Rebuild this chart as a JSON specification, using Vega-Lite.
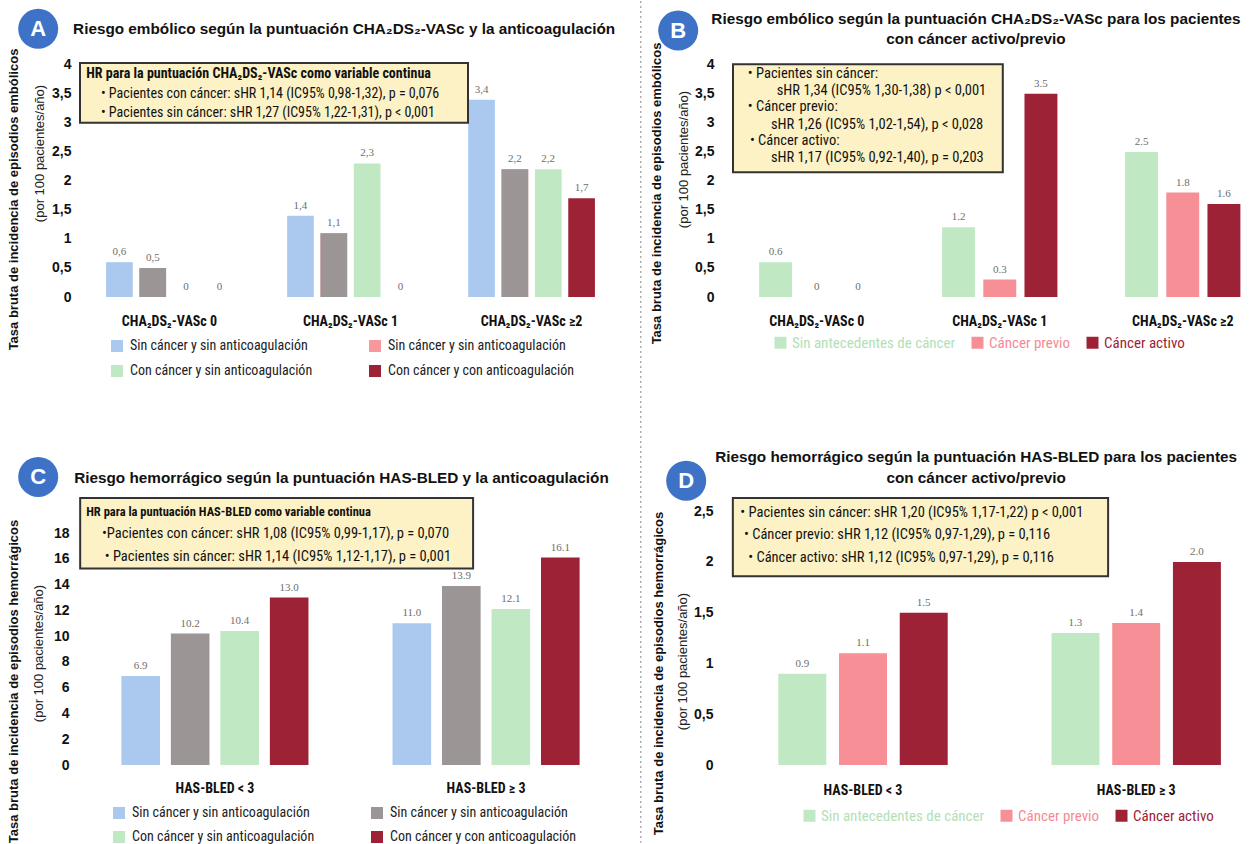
{
  "$schema": "https://vega.github.io/schema/vega-lite/v6.json",
  "padding": {"left": 6, "top": 0, "right": 0, "bottom": 0},
  "autosize": {"type": "pad"},
  "background": "white",
  "bounds": "flush",
  "spacing": 438,
  "config": {"view": {"stroke": null}},
  "resolve": {"scale": {"color": "independent", "xOffset": "independent"}, "legend": {"color": "independent"}},
  "datasets": {
    "A": [
      {"grupo": "CHA₂DS₂-VASc 0", "serie": "Sin cáncer y sin anticoagulación", "valor": 0.6, "etiqueta": "0,6"},
      {"grupo": "CHA₂DS₂-VASc 0", "serie": "Sin cáncer y con anticoagulación", "valor": 0.5, "etiqueta": "0,5"},
      {"grupo": "CHA₂DS₂-VASc 0", "serie": "Con cáncer y sin anticoagulación", "valor": 0, "etiqueta": "0"},
      {"grupo": "CHA₂DS₂-VASc 0", "serie": "Con cáncer y con anticoagulación", "valor": 0, "etiqueta": "0"},
      {"grupo": "CHA₂DS₂-VASc 1", "serie": "Sin cáncer y sin anticoagulación", "valor": 1.4, "etiqueta": "1,4"},
      {"grupo": "CHA₂DS₂-VASc 1", "serie": "Sin cáncer y con anticoagulación", "valor": 1.1, "etiqueta": "1,1"},
      {"grupo": "CHA₂DS₂-VASc 1", "serie": "Con cáncer y sin anticoagulación", "valor": 2.3, "etiqueta": "2,3"},
      {"grupo": "CHA₂DS₂-VASc 1", "serie": "Con cáncer y con anticoagulación", "valor": 0, "etiqueta": "0"},
      {"grupo": "CHA₂DS₂-VASc ≥2", "serie": "Sin cáncer y sin anticoagulación", "valor": 3.4, "etiqueta": "3,4"},
      {"grupo": "CHA₂DS₂-VASc ≥2", "serie": "Sin cáncer y con anticoagulación", "valor": 2.2, "etiqueta": "2,2"},
      {"grupo": "CHA₂DS₂-VASc ≥2", "serie": "Con cáncer y sin anticoagulación", "valor": 2.2, "etiqueta": "2,2"},
      {"grupo": "CHA₂DS₂-VASc ≥2", "serie": "Con cáncer y con anticoagulación", "valor": 1.7, "etiqueta": "1,7"}
    ],
    "B": [
      {"grupo": "CHA₂DS₂-VASc 0", "serie": "Sin antecedentes de cáncer", "valor": 0.6, "etiqueta": "0.6"},
      {"grupo": "CHA₂DS₂-VASc 0", "serie": "Cáncer previo", "valor": 0, "etiqueta": "0"},
      {"grupo": "CHA₂DS₂-VASc 0", "serie": "Cáncer activo", "valor": 0, "etiqueta": "0"},
      {"grupo": "CHA₂DS₂-VASc 1", "serie": "Sin antecedentes de cáncer", "valor": 1.2, "etiqueta": "1.2"},
      {"grupo": "CHA₂DS₂-VASc 1", "serie": "Cáncer previo", "valor": 0.3, "etiqueta": "0.3"},
      {"grupo": "CHA₂DS₂-VASc 1", "serie": "Cáncer activo", "valor": 3.5, "etiqueta": "3.5"},
      {"grupo": "CHA₂DS₂-VASc ≥2", "serie": "Sin antecedentes de cáncer", "valor": 2.5, "etiqueta": "2.5"},
      {"grupo": "CHA₂DS₂-VASc ≥2", "serie": "Cáncer previo", "valor": 1.8, "etiqueta": "1.8"},
      {"grupo": "CHA₂DS₂-VASc ≥2", "serie": "Cáncer activo", "valor": 1.6, "etiqueta": "1.6"}
    ],
    "C": [
      {"grupo": "HAS-BLED < 3", "serie": "Sin cáncer y sin anticoagulación", "valor": 6.9, "etiqueta": "6.9"},
      {"grupo": "HAS-BLED < 3", "serie": "Sin cáncer y con anticoagulación", "valor": 10.2, "etiqueta": "10.2"},
      {"grupo": "HAS-BLED < 3", "serie": "Con cáncer y sin anticoagulación", "valor": 10.4, "etiqueta": "10.4"},
      {"grupo": "HAS-BLED < 3", "serie": "Con cáncer y con anticoagulación", "valor": 13.0, "etiqueta": "13.0"},
      {"grupo": "HAS-BLED ≥ 3", "serie": "Sin cáncer y sin anticoagulación", "valor": 11.0, "etiqueta": "11.0"},
      {"grupo": "HAS-BLED ≥ 3", "serie": "Sin cáncer y con anticoagulación", "valor": 13.9, "etiqueta": "13.9"},
      {"grupo": "HAS-BLED ≥ 3", "serie": "Con cáncer y sin anticoagulación", "valor": 12.1, "etiqueta": "12.1"},
      {"grupo": "HAS-BLED ≥ 3", "serie": "Con cáncer y con anticoagulación", "valor": 16.1, "etiqueta": "16.1"}
    ],
    "D": [
      {"grupo": "HAS-BLED < 3", "serie": "Sin antecedentes de cáncer", "valor": 0.9, "etiqueta": "0.9"},
      {"grupo": "HAS-BLED < 3", "serie": "Cáncer previo", "valor": 1.1, "etiqueta": "1.1"},
      {"grupo": "HAS-BLED < 3", "serie": "Cáncer activo", "valor": 1.5, "etiqueta": "1.5"},
      {"grupo": "HAS-BLED ≥ 3", "serie": "Sin antecedentes de cáncer", "valor": 1.3, "etiqueta": "1.3"},
      {"grupo": "HAS-BLED ≥ 3", "serie": "Cáncer previo", "valor": 1.4, "etiqueta": "1.4"},
      {"grupo": "HAS-BLED ≥ 3", "serie": "Cáncer activo", "valor": 2.0, "etiqueta": "2.0"}
    ]
  },
  "vconcat": [
    {
      "bounds": "flush",
      "spacing": 100,
      "resolve": {"scale": {"color": "independent", "xOffset": "independent"}, "legend": {"color": "independent"}},
      "hconcat": [
        {
          "width": 545,
          "height": 238,
          "layer": [
            {
              "data": {"name": "A"},
              "encoding": {
                "x": {"field": "grupo", "type": "nominal", "sort": null, "scale": {"domain": ["CHA₂DS₂-VASc 0", "CHA₂DS₂-VASc 1", "CHA₂DS₂-VASc ≥2"], "paddingInner": 0.3, "paddingOuter": 0.155, "align": 0.5}, "axis": {"title": null, "orient": "bottom", "labelAngle": 0, "labelFont": "Roboto Condensed, Liberation Sans", "labelFontSize": 14, "labelFontWeight": "bold", "labelColor": "#111", "ticks": false, "domain": false, "labelPadding": 17}},
                "xOffset": {"field": "serie", "type": "nominal", "sort": null, "scale": {"domain": ["Sin cáncer y sin anticoagulación", "Sin cáncer y con anticoagulación", "Con cáncer y sin anticoagulación", "Con cáncer y con anticoagulación"], "paddingInner": 0.2, "paddingOuter": 0}}
              },
              "resolve": {"axis": {"y": "independent"}},
              "layer": [
                {
                  "mark": {"type": "bar", "clip": false},
                  "encoding": {
                    "y": {"field": "valor", "type": "quantitative", "scale": {"domain": [0, 4.1], "nice": false}, "axis": {"orient": "left", "title": "(por 100 pacientes/año)", "titleFont": "Liberation Sans", "titleFontSize": 13, "titleFontWeight": "normal", "titleColor": "#222", "titlePadding": 5, "titleY": 94, "labelFont": "Liberation Sans", "labelFontSize": 14, "labelFontWeight": "bold", "labelColor": "#111", "labelPadding": 7, "ticks": false, "tickSize": 0, "domain": false, "grid": false, "values": [0, 0.5, 1, 1.5, 2, 2.5, 3, 3.5, 4], "labelExpr": "replace(format(datum.value, '~g'), '.', ',')"}},
                    "color": {"field": "serie", "type": "nominal", "scale": {"domain": ["Sin cáncer y sin anticoagulación", "Sin cáncer y con anticoagulación", "Con cáncer y sin anticoagulación", "Con cáncer y con anticoagulación"], "range": ["#abc9ef", "#f6989c", "#bfe8c3", "#9e2236"]}, "legend": {"title": null, "orient": "none", "legendX": 32, "legendY": 280, "direction": "horizontal", "columns": 2, "columnPadding": 55, "rowPadding": 11, "symbolType": "square", "symbolSize": 144, "symbolStrokeWidth": 0, "labelFont": "Roboto Condensed, Liberation Sans", "labelFontSize": 14, "labelColor": "#222", "labelOffset": 6, "labelLimit": 320, "padding": 0, "labelExpr": "datum.label == 'Sin cáncer y con anticoagulación' ? 'Sin cáncer y sin anticoagulación' : datum.label"}}
                  }
                },
                {
                  "transform": [{"filter": "datum.serie == 'Sin cáncer y con anticoagulación'"}],
                  "mark": {"type": "bar", "color": "#9b9595", "clip": false},
                  "encoding": {"y": {"field": "valor", "type": "quantitative", "axis": null}}
                },
                {
                  "mark": {"type": "text", "baseline": "bottom", "dy": -5, "font": "Liberation Serif", "fontSize": 11, "color": "#6e6e6e", "clip": false},
                  "encoding": {
                    "y": {"field": "valor", "type": "quantitative", "axis": {"orient": "left", "title": "Tasa bruta de incidencia de episodios embólicos", "titleFont": "Liberation Sans", "titleFontSize": 13, "titleFontWeight": "bold", "titleColor": "#111", "titlePadding": 58, "titleY": 140, "labels": false, "ticks": false, "tickSize": 0, "domain": false, "grid": false}},
                    "text": {"field": "etiqueta"}
                  }
                }
              ]
            },
            {
              "data": {"values": [{}]},
              "layer": [
                {"mark": {"type": "rect", "fill": "#fcf2c6", "stroke": "#333333", "strokeWidth": 2, "clip": false}, "encoding": {"x": {"datum": "CHA₂DS₂-VASc 0", "type": "nominal", "bandPosition": -0.2057}, "x2": {"datum": "CHA₂DS₂-VASc 0", "bandPosition": 2.8557}, "y": {"datum": 4.03, "type": "quantitative", "axis": null}, "y2": {"datum": 3.0}}},
                {"mark": {"type": "text", "text": "HR para la puntuación CHA₂DS₂-VASc como variable continua", "align": "left", "baseline": "middle", "font": "Roboto Condensed, Liberation Sans", "fontSize": 14, "fontWeight": "bold", "color": "#111", "clip": false}, "encoding": {"x": {"datum": "CHA₂DS₂-VASc 0", "type": "nominal", "bandPosition": -0.1568}, "y": {"datum": 3.84, "type": "quantitative", "axis": null}}},
                {"mark": {"type": "text", "text": "• Pacientes con cáncer: sHR 1,14 (IC95% 0,98-1,32), p = 0,076", "align": "left", "baseline": "middle", "font": "Roboto Condensed, Liberation Sans", "fontSize": 14, "color": "#111", "clip": false}, "encoding": {"x": {"datum": "CHA₂DS₂-VASc 0", "type": "nominal", "bandPosition": -0.0408}, "y": {"datum": 3.5, "type": "quantitative", "axis": null}}},
                {"mark": {"type": "text", "text": "• Pacientes sin cáncer: sHR 1,27 (IC95% 1,22-1,31), p < 0,001", "align": "left", "baseline": "middle", "font": "Roboto Condensed, Liberation Sans", "fontSize": 14, "color": "#111", "clip": false}, "encoding": {"x": {"datum": "CHA₂DS₂-VASc 0", "type": "nominal", "bandPosition": -0.0408}, "y": {"datum": 3.17, "type": "quantitative", "axis": null}}},
                {"mark": {"type": "point", "shape": "circle", "filled": true, "size": 1600, "color": "#3d72c6", "opacity": 1, "strokeWidth": 0, "clip": false}, "encoding": {"x": {"datum": "CHA₂DS₂-VASc 0", "type": "nominal", "bandPosition": -0.5355}, "y": {"datum": 4.62, "type": "quantitative", "axis": null}}},
                {"mark": {"type": "text", "text": "A", "align": "center", "baseline": "middle", "font": "Liberation Sans", "fontSize": 22, "fontWeight": "bold", "color": "white", "clip": false}, "encoding": {"x": {"datum": "CHA₂DS₂-VASc 0", "type": "nominal", "bandPosition": -0.5355}, "y": {"datum": 4.62, "type": "quantitative", "axis": null}}},
                {"mark": {"type": "text", "text": "Riesgo embólico según la puntuación CHA₂DS₂-VASc y la anticoagulación", "align": "left", "baseline": "middle", "font": "Liberation Sans", "fontSize": 15.3, "fontWeight": "bold", "color": "#111", "clip": false}, "encoding": {"x": {"datum": "CHA₂DS₂-VASc 0", "type": "nominal", "bandPosition": -0.2601}, "y": {"datum": 4.617, "type": "quantitative", "axis": null}}}
              ]
            }
          ]
        },
        {
          "width": 527,
          "height": 238,
          "layer": [
            {
              "data": {"name": "B"},
              "encoding": {
                "x": {"field": "grupo", "type": "nominal", "sort": null, "scale": {"domain": ["CHA₂DS₂-VASc 0", "CHA₂DS₂-VASc 1", "CHA₂DS₂-VASc ≥2"], "paddingInner": 0.37, "paddingOuter": 0.125, "align": 0.79}, "axis": {"title": null, "orient": "bottom", "labelAngle": 0, "labelFont": "Roboto Condensed, Liberation Sans", "labelFontSize": 14, "labelFontWeight": "bold", "labelColor": "#111", "ticks": false, "domain": false, "labelPadding": 17}},
                "xOffset": {"field": "serie", "type": "nominal", "sort": null, "scale": {"domain": ["Sin antecedentes de cáncer", "Cáncer previo", "Cáncer activo"], "paddingInner": 0.2, "paddingOuter": 0}}
              },
              "resolve": {"axis": {"y": "independent"}},
              "layer": [
                {
                  "mark": {"type": "bar", "clip": false},
                  "encoding": {
                    "y": {"field": "valor", "type": "quantitative", "scale": {"domain": [0, 4.1], "nice": false}, "axis": {"orient": "left", "title": "(por 100 pacientes/año)", "titleFont": "Liberation Sans", "titleFontSize": 13, "titleFontWeight": "normal", "titleColor": "#222", "titlePadding": 4, "titleY": 100, "labelFont": "Liberation Sans", "labelFontSize": 14, "labelFontWeight": "bold", "labelColor": "#111", "labelPadding": 9, "ticks": false, "tickSize": 0, "domain": false, "grid": false, "values": [0, 0.5, 1, 1.5, 2, 2.5, 3, 3.5, 4], "labelExpr": "replace(format(datum.value, '~g'), '.', ',')"}},
                    "color": {"field": "serie", "type": "nominal", "scale": {"domain": ["Sin antecedentes de cáncer", "Cáncer previo", "Cáncer activo"], "range": ["#bfe8c3", "#f69096", "#9e2236"]}, "legend": {"title": null, "orient": "none", "legendX": 50, "legendY": 276, "direction": "horizontal", "columnPadding": 14, "symbolType": "square", "symbolSize": 144, "symbolStrokeWidth": 0, "labelFont": "Roboto Condensed, Liberation Sans", "labelFontSize": 15, "labelOffset": 4, "labelLimit": 300, "padding": 0, "encode": {"labels": {"update": {"fill": {"signal": "datum.value == 'Sin antecedentes de cáncer' ? '#b3e0b7' : datum.value == 'Cáncer previo' ? '#f58a93' : '#9e2236'"}}}}}}
                  }
                },
                {
                  "mark": {"type": "text", "baseline": "bottom", "dy": -5, "font": "Liberation Serif", "fontSize": 11, "color": "#6e6e6e", "clip": false},
                  "encoding": {
                    "y": {"field": "valor", "type": "quantitative", "axis": {"orient": "left", "title": "Tasa bruta de incidencia de episodios embólicos", "titleFont": "Liberation Sans", "titleFontSize": 13, "titleFontWeight": "bold", "titleColor": "#111", "titlePadding": 60, "titleY": 134, "labels": false, "ticks": false, "tickSize": 0, "domain": false, "grid": false}},
                    "text": {"field": "etiqueta"}
                  }
                }
              ]
            },
            {
              "data": {"values": [{}]},
              "layer": [
                {"mark": {"type": "rule", "color": "#9a9a9a", "strokeWidth": 1.2, "strokeDash": [2, 3], "clip": false}, "encoding": {"x": {"datum": "CHA₂DS₂-VASc 0", "type": "nominal", "bandPosition": -1.0266}, "y": {"datum": 5.099, "type": "quantitative", "axis": null}, "y2": {"datum": -9.4}}},
                {"mark": {"type": "rect", "fill": "#fcf2c6", "stroke": "#333333", "strokeWidth": 2, "clip": false}, "encoding": {"x": {"datum": "CHA₂DS₂-VASc 0", "type": "nominal", "bandPosition": -0.2267}, "x2": {"datum": "CHA₂DS₂-VASc 0", "bandPosition": 2.1136}, "y": {"datum": 4.01, "type": "quantitative", "axis": null}, "y2": {"datum": 2.15}}},
                {"mark": {"type": "text", "text": "• Pacientes sin cáncer:", "align": "left", "baseline": "middle", "font": "Roboto Condensed, Liberation Sans", "fontSize": 14.5, "color": "#111", "clip": false}, "encoding": {"x": {"datum": "CHA₂DS₂-VASc 0", "type": "nominal", "bandPosition": -0.0984}, "y": {"datum": 3.84, "type": "quantitative", "axis": null}}},
                {"mark": {"type": "text", "text": "sHR 1,34 (IC95% 1,30-1,38) p < 0,001", "align": "left", "baseline": "middle", "font": "Roboto Condensed, Liberation Sans", "fontSize": 14.5, "color": "#111", "clip": false}, "encoding": {"x": {"datum": "CHA₂DS₂-VASc 0", "type": "nominal", "bandPosition": 0.1528}, "y": {"datum": 3.55, "type": "quantitative", "axis": null}}},
                {"mark": {"type": "text", "text": "• Cáncer previo:", "align": "left", "baseline": "middle", "font": "Roboto Condensed, Liberation Sans", "fontSize": 14.5, "color": "#111", "clip": false}, "encoding": {"x": {"datum": "CHA₂DS₂-VASc 0", "type": "nominal", "bandPosition": -0.0984}, "y": {"datum": 3.27, "type": "quantitative", "axis": null}}},
                {"mark": {"type": "text", "text": "sHR 1,26 (IC95% 1,02-1,54), p < 0,028", "align": "left", "baseline": "middle", "font": "Roboto Condensed, Liberation Sans", "fontSize": 14.5, "color": "#111", "clip": false}, "encoding": {"x": {"datum": "CHA₂DS₂-VASc 0", "type": "nominal", "bandPosition": 0.1025}, "y": {"datum": 2.96, "type": "quantitative", "axis": null}}},
                {"mark": {"type": "text", "text": "• Cáncer activo:", "align": "left", "baseline": "middle", "font": "Roboto Condensed, Liberation Sans", "fontSize": 14.5, "color": "#111", "clip": false}, "encoding": {"x": {"datum": "CHA₂DS₂-VASc 0", "type": "nominal", "bandPosition": -0.0803}, "y": {"datum": 2.69, "type": "quantitative", "axis": null}}},
                {"mark": {"type": "text", "text": "sHR 1,17 (IC95% 0,92-1,40), p = 0,203", "align": "left", "baseline": "middle", "font": "Roboto Condensed, Liberation Sans", "fontSize": 14.5, "color": "#111", "clip": false}, "encoding": {"x": {"datum": "CHA₂DS₂-VASc 0", "type": "nominal", "bandPosition": 0.1025}, "y": {"datum": 2.39, "type": "quantitative", "axis": null}}},
                {"mark": {"type": "point", "shape": "circle", "filled": true, "size": 1600, "color": "#3d72c6", "opacity": 1, "strokeWidth": 0, "clip": false}, "encoding": {"x": {"datum": "CHA₂DS₂-VASc 0", "type": "nominal", "bandPosition": -0.7021}, "y": {"datum": 4.59, "type": "quantitative", "axis": null}}},
                {"mark": {"type": "text", "text": "B", "align": "center", "baseline": "middle", "font": "Liberation Sans", "fontSize": 22, "fontWeight": "bold", "color": "white", "clip": false}, "encoding": {"x": {"datum": "CHA₂DS₂-VASc 0", "type": "nominal", "bandPosition": -0.7021}, "y": {"datum": 4.59, "type": "quantitative", "axis": null}}},
                {"mark": {"type": "text", "text": "Riesgo embólico según la puntuación CHA₂DS₂-VASc para los pacientes", "align": "center", "baseline": "middle", "font": "Liberation Sans", "fontSize": 15.3, "fontWeight": "bold", "color": "#111", "clip": false}, "encoding": {"x": {"datum": "CHA₂DS₂-VASc 0", "type": "nominal", "bandPosition": 1.8809}, "y": {"datum": 4.79, "type": "quantitative", "axis": null}}},
                {"mark": {"type": "text", "text": "con cáncer activo/previo", "align": "center", "baseline": "middle", "font": "Liberation Sans", "fontSize": 15.3, "fontWeight": "bold", "color": "#111", "clip": false}, "encoding": {"x": {"datum": "CHA₂DS₂-VASc 0", "type": "nominal", "bandPosition": 1.8809}, "y": {"datum": 4.444, "type": "quantitative", "axis": null}}}
              ]
            }
          ]
        }
      ]
    },
    {
      "bounds": "flush",
      "spacing": 95,
      "resolve": {"scale": {"color": "independent", "xOffset": "independent"}, "legend": {"color": "independent"}},
      "hconcat": [
        {
          "width": 545,
          "height": 268,
          "layer": [
            {
              "data": {"name": "C"},
              "encoding": {
                "x": {"field": "grupo", "type": "nominal", "sort": null, "scale": {"domain": ["HAS-BLED < 3", "HAS-BLED ≥ 3"], "paddingInner": 0.31, "paddingOuter": 0.16, "align": 0.5}, "axis": {"title": null, "orient": "bottom", "labelAngle": 0, "labelFont": "Roboto Condensed, Liberation Sans", "labelFontSize": 14, "labelFontWeight": "bold", "labelColor": "#111", "ticks": false, "domain": false, "labelPadding": 16}},
                "xOffset": {"field": "serie", "type": "nominal", "sort": null, "scale": {"domain": ["Sin cáncer y sin anticoagulación", "Sin cáncer y con anticoagulación", "Con cáncer y sin anticoagulación", "Con cáncer y con anticoagulación"], "paddingInner": 0.22, "paddingOuter": 0}}
              },
              "resolve": {"axis": {"y": "independent"}},
              "layer": [
                {
                  "mark": {"type": "bar", "clip": false},
                  "encoding": {
                    "y": {"field": "valor", "type": "quantitative", "scale": {"domain": [0, 20.8], "nice": false}, "axis": {"orient": "left", "title": "(por 100 pacientes/año)", "titleFont": "Liberation Sans", "titleFontSize": 13, "titleFontWeight": "normal", "titleColor": "#222", "titlePadding": 8, "titleY": 156, "labelFont": "Liberation Sans", "labelFontSize": 14, "labelFontWeight": "bold", "labelColor": "#111", "labelPadding": 9, "ticks": false, "tickSize": 0, "domain": false, "grid": false, "values": [0, 2, 4, 6, 8, 10, 12, 14, 16, 18]}},
                    "color": {"field": "serie", "type": "nominal", "scale": {"domain": ["Sin cáncer y sin anticoagulación", "Sin cáncer y con anticoagulación", "Con cáncer y sin anticoagulación", "Con cáncer y con anticoagulación"], "range": ["#abc9ef", "#9b9595", "#bfe8c3", "#9e2236"]}, "legend": {"title": null, "orient": "none", "legendX": 34, "legendY": 309, "direction": "horizontal", "columns": 2, "columnPadding": 55, "rowPadding": 10, "symbolType": "square", "symbolSize": 144, "symbolStrokeWidth": 0, "labelFont": "Roboto Condensed, Liberation Sans", "labelFontSize": 14, "labelColor": "#222", "labelOffset": 6, "labelLimit": 320, "padding": 0, "labelExpr": "datum.label == 'Sin cáncer y con anticoagulación' ? 'Sin cáncer y sin anticoagulación' : datum.label"}}
                  }
                },
                {
                  "mark": {"type": "text", "baseline": "bottom", "dy": -5, "font": "Liberation Serif", "fontSize": 11, "color": "#6e6e6e", "clip": false},
                  "encoding": {
                    "y": {"field": "valor", "type": "quantitative", "axis": {"orient": "left", "title": "Tasa bruta de incidencia de episodios hemorrágicos", "titleFont": "Liberation Sans", "titleFontSize": 13, "titleFontWeight": "bold", "titleColor": "#111", "titlePadding": 58, "titleY": 184, "labels": false, "ticks": false, "tickSize": 0, "domain": false, "grid": false}},
                    "text": {"field": "etiqueta"}
                  }
                }
              ]
            },
            {
              "data": {"values": [{}]},
              "layer": [
                {"mark": {"type": "rect", "fill": "#fcf2c6", "stroke": "#333333", "strokeWidth": 2, "clip": false}, "encoding": {"x": {"datum": "HAS-BLED < 3", "type": "nominal", "bandPosition": -0.2203}, "x2": {"datum": "HAS-BLED < 3", "bandPosition": 1.8799}, "y": {"datum": 20.73, "type": "quantitative", "axis": null}, "y2": {"datum": 15.25}}},
                {"mark": {"type": "text", "text": "HR para la puntuación HAS-BLED como variable continua", "align": "left", "baseline": "middle", "font": "Roboto Condensed, Liberation Sans", "fontSize": 12.5, "fontWeight": "bold", "color": "#111", "clip": false}, "encoding": {"x": {"datum": "HAS-BLED < 3", "type": "nominal", "bandPosition": -0.1882}, "y": {"datum": 19.64, "type": "quantitative", "axis": null}}},
                {"mark": {"type": "text", "text": "•Pacientes con cáncer: sHR 1,08 (IC95% 0,99-1,17), p = 0,070", "align": "left", "baseline": "middle", "font": "Roboto Condensed, Liberation Sans", "fontSize": 14.5, "color": "#111", "clip": false}, "encoding": {"x": {"datum": "HAS-BLED < 3", "type": "nominal", "bandPosition": -0.1037}, "y": {"datum": 17.93, "type": "quantitative", "axis": null}}},
                {"mark": {"type": "text", "text": "• Pacientes sin cáncer: sHR 1,14 (IC95% 1,12-1,17), p = 0,001", "align": "left", "baseline": "middle", "font": "Roboto Condensed, Liberation Sans", "fontSize": 14.5, "color": "#111", "clip": false}, "encoding": {"x": {"datum": "HAS-BLED < 3", "type": "nominal", "bandPosition": -0.0892}, "y": {"datum": 16.15, "type": "quantitative", "axis": null}}},
                {"mark": {"type": "point", "shape": "circle", "filled": true, "size": 1600, "color": "#3d72c6", "opacity": 1, "strokeWidth": 0, "clip": false}, "encoding": {"x": {"datum": "HAS-BLED < 3", "type": "nominal", "bandPosition": -0.4446}, "y": {"datum": 22.36, "type": "quantitative", "axis": null}}},
                {"mark": {"type": "text", "text": "C", "align": "center", "baseline": "middle", "font": "Liberation Sans", "fontSize": 22, "fontWeight": "bold", "color": "white", "clip": false}, "encoding": {"x": {"datum": "HAS-BLED < 3", "type": "nominal", "bandPosition": -0.4446}, "y": {"datum": 22.36, "type": "quantitative", "axis": null}}},
                {"mark": {"type": "text", "text": "Riesgo hemorrágico según la puntuación HAS-BLED y la anticoagulación", "align": "left", "baseline": "middle", "font": "Liberation Sans", "fontSize": 15.3, "fontWeight": "bold", "color": "#111", "clip": false}, "encoding": {"x": {"datum": "HAS-BLED < 3", "type": "nominal", "bandPosition": -0.2523}, "y": {"datum": 22.27, "type": "quantitative", "axis": null}}}
              ]
            }
          ]
        },
        {
          "width": 530,
          "height": 268,
          "layer": [
            {
              "data": {"name": "D"},
              "encoding": {
                "x": {"field": "grupo", "type": "nominal", "sort": null, "scale": {"domain": ["HAS-BLED < 3", "HAS-BLED ≥ 3"], "paddingInner": 0.38, "paddingOuter": 0.16, "align": 0.69}, "axis": {"title": null, "orient": "bottom", "labelAngle": 0, "labelFont": "Roboto Condensed, Liberation Sans", "labelFontSize": 14, "labelFontWeight": "bold", "labelColor": "#111", "ticks": false, "domain": false, "labelPadding": 18}},
                "xOffset": {"field": "serie", "type": "nominal", "sort": null, "scale": {"domain": ["Sin antecedentes de cáncer", "Cáncer previo", "Cáncer activo"], "paddingInner": 0.21, "paddingOuter": 0}}
              },
              "resolve": {"axis": {"y": "independent"}},
              "layer": [
                {
                  "mark": {"type": "bar", "clip": false},
                  "encoding": {
                    "y": {"field": "valor", "type": "quantitative", "scale": {"domain": [0, 2.64], "nice": false}, "axis": {"orient": "left", "title": "(por 100 pacientes/año)", "titleFont": "Liberation Sans", "titleFontSize": 13, "titleFontWeight": "normal", "titleColor": "#222", "titlePadding": 4, "titleY": 164, "labelFont": "Liberation Sans", "labelFontSize": 14, "labelFontWeight": "bold", "labelColor": "#111", "labelPadding": 5, "ticks": false, "tickSize": 0, "domain": false, "grid": false, "values": [0, 0.5, 1, 1.5, 2, 2.5], "labelExpr": "replace(format(datum.value, '~g'), '.', ',')"}},
                    "color": {"field": "serie", "type": "nominal", "scale": {"domain": ["Sin antecedentes de cáncer", "Cáncer previo", "Cáncer activo"], "range": ["#bfe8c3", "#f69096", "#9e2236"]}, "legend": {"title": null, "orient": "none", "legendX": 84, "legendY": 311, "direction": "horizontal", "columnPadding": 14, "symbolType": "square", "symbolSize": 144, "symbolStrokeWidth": 0, "labelFont": "Roboto Condensed, Liberation Sans", "labelFontSize": 15, "labelOffset": 4, "labelLimit": 300, "padding": 0, "encode": {"labels": {"update": {"fill": {"signal": "datum.value == 'Sin antecedentes de cáncer' ? '#b3e0b7' : datum.value == 'Cáncer previo' ? '#f58a93' : '#9e2236'"}}}}}}
                  }
                },
                {
                  "mark": {"type": "text", "baseline": "bottom", "dy": -5, "font": "Liberation Serif", "fontSize": 11, "color": "#6e6e6e", "clip": false},
                  "encoding": {
                    "y": {"field": "valor", "type": "quantitative", "axis": {"orient": "left", "title": "Tasa bruta de incidencia de episodios hemorrágicos", "titleFont": "Liberation Sans", "titleFontSize": 13, "titleFontWeight": "bold", "titleColor": "#111", "titlePadding": 53, "titleY": 176, "labels": false, "ticks": false, "tickSize": 0, "domain": false, "grid": false}},
                    "text": {"field": "etiqueta"}
                  }
                }
              ]
            },
            {
              "data": {"values": [{}]},
              "layer": [
                {"mark": {"type": "rect", "fill": "#fcf2c6", "stroke": "#333333", "strokeWidth": 2, "clip": false}, "encoding": {"x": {"datum": "HAS-BLED < 3", "type": "nominal", "bandPosition": -0.2685}, "x2": {"datum": "HAS-BLED < 3", "bandPosition": 1.947}, "y": {"datum": 2.63, "type": "quantitative", "axis": null}, "y2": {"datum": 1.86}}},
                {"mark": {"type": "text", "text": "• Pacientes sin cáncer: sHR 1,20 (IC95% 1,17-1,22) p < 0,001", "align": "left", "baseline": "middle", "font": "Roboto Condensed, Liberation Sans", "fontSize": 14.5, "color": "#111", "clip": false}, "encoding": {"x": {"datum": "HAS-BLED < 3", "type": "nominal", "bandPosition": -0.2247}, "y": {"datum": 2.48, "type": "quantitative", "axis": null}}},
                {"mark": {"type": "text", "text": "• Cáncer previo: sHR 1,12 (IC95% 0,97-1,29), p = 0,116", "align": "left", "baseline": "middle", "font": "Roboto Condensed, Liberation Sans", "fontSize": 14.5, "color": "#111", "clip": false}, "encoding": {"x": {"datum": "HAS-BLED < 3", "type": "nominal", "bandPosition": -0.2028}, "y": {"datum": 2.27, "type": "quantitative", "axis": null}}},
                {"mark": {"type": "text", "text": "• Cáncer activo: sHR 1,12 (IC95% 0,97-1,29), p = 0,116", "align": "left", "baseline": "middle", "font": "Roboto Condensed, Liberation Sans", "fontSize": 14.5, "color": "#111", "clip": false}, "encoding": {"x": {"datum": "HAS-BLED < 3", "type": "nominal", "bandPosition": -0.1778}, "y": {"datum": 2.04, "type": "quantitative", "axis": null}}},
                {"mark": {"type": "point", "shape": "circle", "filled": true, "size": 1600, "color": "#3d72c6", "opacity": 1, "strokeWidth": 0, "clip": false}, "encoding": {"x": {"datum": "HAS-BLED < 3", "type": "nominal", "bandPosition": -0.5439}, "y": {"datum": 2.8, "type": "quantitative", "axis": null}}},
                {"mark": {"type": "text", "text": "D", "align": "center", "baseline": "middle", "font": "Liberation Sans", "fontSize": 22, "fontWeight": "bold", "color": "white", "clip": false}, "encoding": {"x": {"datum": "HAS-BLED < 3", "type": "nominal", "bandPosition": -0.5439}, "y": {"datum": 2.8, "type": "quantitative", "axis": null}}},
                {"mark": {"type": "text", "text": "Riesgo hemorrágico según la puntuación HAS-BLED para los pacientes", "align": "center", "baseline": "middle", "font": "Liberation Sans", "fontSize": 15.3, "fontWeight": "bold", "color": "#111", "clip": false}, "encoding": {"x": {"datum": "HAS-BLED < 3", "type": "nominal", "bandPosition": 1.1677}, "y": {"datum": 3.034, "type": "quantitative", "axis": null}}},
                {"mark": {"type": "text", "text": "con cáncer activo/previo", "align": "center", "baseline": "middle", "font": "Liberation Sans", "fontSize": 15.3, "fontWeight": "bold", "color": "#111", "clip": false}, "encoding": {"x": {"datum": "HAS-BLED < 3", "type": "nominal", "bandPosition": 1.1677}, "y": {"datum": 2.828, "type": "quantitative", "axis": null}}}
              ]
            }
          ]
        }
      ]
    }
  ]
}
